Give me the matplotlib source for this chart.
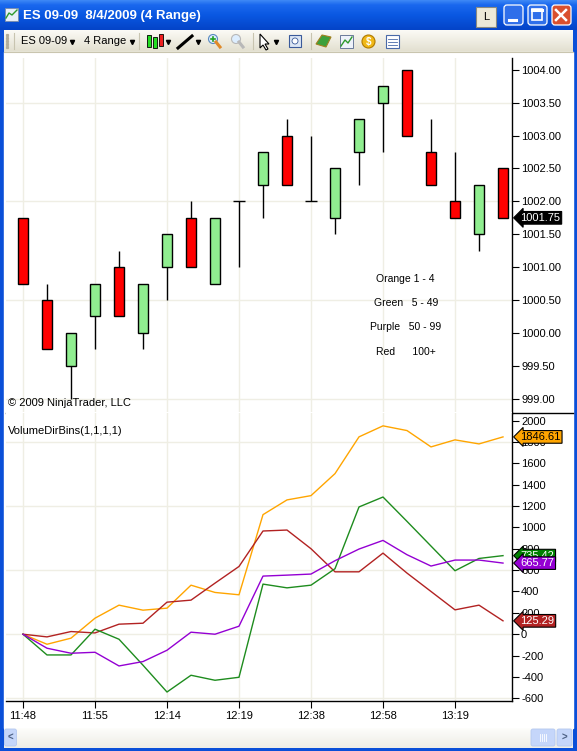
import numpy as np
import matplotlib
matplotlib.use("Agg")
import matplotlib.pyplot as plt
import matplotlib.ticker as ticker
from matplotlib.patches import Rectangle, FancyBboxPatch, Circle, Polygon

plt.rcParams['font.family'] = ['Liberation Sans', 'DejaVu Sans']

# ES 09-09, 4 range bars
bar_open  = [1001.75, 1000.50,  999.50, 1000.25, 1001.00, 1000.00, 1001.00, 1001.75, 1000.75, 1002.00, 1002.25,
             1003.00, 1002.00, 1001.75, 1002.75, 1003.50, 1004.00, 1002.75, 1002.00, 1001.50, 1002.50]
bar_high  = [1001.75, 1000.75, 1000.00, 1000.75, 1001.25, 1000.75, 1001.50, 1002.00, 1001.75, 1002.00, 1002.75,
             1003.25, 1003.00, 1002.50, 1003.25, 1003.75, 1004.00, 1003.25, 1002.75, 1002.25, 1002.50]
bar_low   = [1000.75,  999.75,  999.00,  999.75, 1000.25,  999.75, 1000.50, 1001.00, 1000.75, 1001.00, 1001.75,
             1002.25, 1002.00, 1001.50, 1002.25, 1002.75, 1003.00, 1002.25, 1001.75, 1001.25, 1001.75]
bar_close = [1000.75,  999.75, 1000.00, 1000.75, 1000.25, 1000.75, 1001.50, 1001.00, 1001.75, 1002.00, 1002.75,
             1002.25, 1002.00, 1002.50, 1003.25, 1003.75, 1003.00, 1002.25, 1001.75, 1002.25, 1001.75]

time_labels = ["11:48", "11:55", "12:14", "12:19", "12:38", "12:58", "13:19"]

# VolumeDirBins(1,1,1,1) cumulative lines
vol_orange = [0, -94, -37, 150, 272, 225, 244, 459, 391, 369, 1119, 1257, 1297, 1503, 1847, 1950, 1906, 1753, 1819, 1781, 1846.61]
vol_green  = [0, -194, -194, 47, -47, -290, -541, -384, -431, -403, 469, 434, 459, 613, 1191, 1284, 1056, 825, 594, 709, 735.42]
vol_purple = [0, -131, -178, -169, -297, -256, -150, 19, 0, 75, 544, 553, 563, 688, 797, 878, 744, 638, 694, 694, 665.77]
vol_red    = [0, -25, 25, 12, 94, 103, 300, 319, 478, 634, 966, 975, 800, 584, 584, 759, 572, 400, 228, 272, 125.29]

legend_lines = ["Orange 1 - 4", "Green   5 - 49", "Purple   50 - 99", "Red      100+"]

W, H = 577, 751
grid_c = "#EFEEE4"
fig = plt.figure(figsize=(W / 100, H / 100), dpi=100)


def rect(x0, y0, x1, y1):
    return [x0 / W, 1 - y1 / H, (x1 - x0) / W, (y1 - y0) / H]


def gradient(stops, n):
    pos = [s[0] for s in stops]
    cols = [matplotlib.colors.to_rgb(s[1]) for s in stops]
    t = np.linspace(0, 1, n)
    g = np.stack([np.interp(t, pos, [c[k] for c in cols]) for k in range(3)], axis=-1)
    return g[:, None, :]


# ---- window chrome ----
bg = fig.add_axes([0, 0, 1, 1])
bg.axis('off')
bg.add_patch(Rectangle((0, 0), W, H, color="#0A4FD8", zorder=0))
bg.imshow(gradient([(0, "#3B86F5"), (0.15, "#1A68EE"), (0.5, "#0A58E2"), (1, "#0444C8")], 30),
          extent=(0, W, 30, 0), aspect='auto', zorder=1)
bg.imshow(gradient([(0, "#FBFAF5"), (1, "#E2DFCF")], 22), extent=(4, 573, 52, 30), aspect='auto', zorder=1)
bg.plot([4, 573], [51.5, 51.5], color="#C9C5AF", lw=0.8, zorder=2)
bg.add_patch(Rectangle((4, 52), 569, 676, color="white", zorder=1))
bg.imshow(gradient([(0, "#FDFDFB"), (1, "#EEEDE6")], 20), extent=(4, 573, 748, 728), aspect='auto', zorder=1)

# title
bg.add_patch(Rectangle((5, 8), 13, 13, fc="#E8EEF8", ec="#7A8CA8", lw=0.6, zorder=2))
bg.plot([6, 9, 12, 17], [18, 13, 15, 10], color="#2E9A2E", lw=1.0, zorder=3)
bg.text(23, 16, "ES 09-09  8/4/2009 (4 Range)", color="white", fontsize=9.5, fontweight='bold', va='center')
bg.add_patch(Rectangle((476, 7), 20, 20, fc="#ECE9D8", ec="#8A8A80", lw=0.8, zorder=2))
bg.text(486, 17.5, "L", fontsize=8, ha='center', va='center')
for x0, fc in [(503, "#2F6FEA"), (527, "#2F6FEA"), (551, "#D9502E")]:
    bg.add_patch(FancyBboxPatch((x0 + 1, 5), 19, 20, boxstyle="round,pad=0,rounding_size=3",
                                fc=fc, ec="white", lw=0.9, zorder=2))
bg.plot([509, 516], [20, 20], color="white", lw=2.2, zorder=3)
bg.add_patch(Rectangle((532, 9), 10, 11, fc="none", ec="white", lw=1.2, zorder=3))
bg.plot([532, 542], [10, 10], color="white", lw=2.2, zorder=3)
bg.plot([556, 566], [10, 20], color="white", lw=1.8, zorder=3)
bg.plot([556, 566], [20, 10], color="white", lw=1.8, zorder=3)

# toolbar
for yy in [35, 38, 41, 44, 47]:
    bg.plot([7], [yy], marker='s', ms=1.3, color="#B0AC9A", zorder=3)
bg.plot([14, 14], [33, 49], color="#C8C4B0", lw=0.8, zorder=3)
bg.text(21, 41, "ES 09-09", fontsize=8, va='center')
bg.text(84, 41, "4 Range", fontsize=8, va='center')
for xx in [72, 132, 168, 198, 276]:
    bg.plot([xx], [41.5], marker='v', ms=3, color="black", zorder=3)
for xx in [139, 253, 311]:
    bg.plot([xx, xx], [33, 49], color="#C8C4B0", lw=0.8, zorder=3)
for xx, fc, y0, y1 in [(149, "#22DD22", 35, 47), (155, "#22DD22", 37, 48), (161, "#EE2020", 34, 46)]:
    bg.add_patch(Rectangle((xx - 1.8, y0), 3.6, y1 - y0, fc=fc, ec="black", lw=0.6, zorder=3))
bg.plot([178, 192], [48, 36], color="black", lw=2.2, zorder=3)
for xx, c in [(214, "#E08A2A"), (237, "#B8B8B8")]:
    bg.add_patch(Circle((xx - 1, 39), 4.5, fc="#DDEEFF", ec="#5A8AC0" if xx == 214 else c, lw=0.8, zorder=3))
    bg.plot([xx + 2, xx + 6], [42, 47], color=c, lw=2.2, zorder=3)
bg.plot([211, 215], [39, 39], color="#20A020", lw=1.2, zorder=4)
bg.plot([213, 213], [37, 41], color="#20A020", lw=1.2, zorder=4)
bg.add_patch(Polygon([(260, 34), (260, 48), (263, 45), (266, 50), (268, 49), (265, 44), (269, 44)],
                     fc="white", ec="black", lw=0.8, zorder=3))
bg.add_patch(Rectangle((289, 35), 12, 12, fc="#DCE6F4", ec="#3A5A9A", lw=0.8, zorder=3))
bg.add_patch(Circle((295, 41), 3, fc="white", ec="#3A5A9A", lw=0.6, zorder=4))
bg.add_patch(Polygon([(316, 44), (322, 35), (331, 37), (326, 47)], fc="#3CA03C", ec="#A08020", lw=0.8, zorder=3))
bg.add_patch(Rectangle((340, 35), 13, 13, fc="#EEF2FA", ec="#6A7A9A", lw=0.7, zorder=3))
bg.plot([341, 345, 348, 352], [46, 40, 43, 37], color="#2E9A2E", lw=1.0, zorder=4)
bg.add_patch(Circle((368.5, 41.5), 6.5, fc="#F0B818", ec="#B07A00", lw=0.8, zorder=3))
bg.text(368.5, 42, "$", fontsize=7, fontweight='bold', color="white", ha='center', va='center', zorder=5)
bg.add_patch(Rectangle((386, 35), 13, 13, fc="white", ec="#4A6AA8", lw=0.8, zorder=3))
for yy in [38.5, 41.5, 44.5]:
    bg.plot([388, 397], [yy, yy], color="#4A6AA8", lw=0.6, zorder=4)

# scrollbar
bg.add_patch(FancyBboxPatch((4.5, 729), 12, 17, boxstyle="round,pad=0,rounding_size=2",
                            fc="#C5D6FA", ec="#B4C8F0", lw=0.6, zorder=3))
bg.text(10.5, 737.5, "<", fontsize=7, fontweight='bold', color="#4D6185", ha='center', va='center', zorder=5)
bg.add_patch(FancyBboxPatch((531, 729), 24, 17, boxstyle="round,pad=0,rounding_size=2",
                            fc="#C5D6FA", ec="#B4C8F0", lw=0.6, zorder=3))
for xx in [540, 542, 544, 546]:
    bg.plot([xx, xx], [734, 741], color="white", lw=0.6, zorder=4)
bg.add_patch(FancyBboxPatch((557, 729), 15, 17, boxstyle="round,pad=0,rounding_size=2",
                            fc="#C5D6FA", ec="#B4C8F0", lw=0.6, zorder=3))
bg.text(564.5, 737.5, ">", fontsize=7, fontweight='bold', color="#4D6185", ha='center', va='center', zorder=5)
bg.plot([512, 573], [412.5, 412.5], color="black", lw=1.0, zorder=3)
bg.set_xlim(0, W)
bg.set_ylim(H, 0)

# ---- price panel ----
ax1 = fig.add_axes(rect(6, 58, 512, 412.5))
n = len(bar_open)
xs = np.arange(n)
for i in range(n):
    o, h, l, c = bar_open[i], bar_high[i], bar_low[i], bar_close[i]
    ax1.vlines(i, l, h, color="black", lw=1.0, zorder=3)
    if c == o:
        ax1.hlines(o, i - 0.25, i + 0.25, color="black", lw=1.0, zorder=4)
    else:
        ax1.add_patch(Rectangle((i - 0.215, min(o, c)), 0.43, abs(c - o),
                                fc="#90EE90" if c > o else "#FF0000", ec="black", lw=1.0, zorder=4))
ax1.set_xlim(-0.708, 20.375)
ax1.set_ylim(998.79, 1004.18)
ax1.yaxis.tick_right()
ax1.yaxis.set_major_locator(ticker.MultipleLocator(0.5))
ax1.yaxis.set_major_formatter(ticker.FormatStrFormatter('%.2f'))
ax1.yaxis.set_minor_locator(ticker.MultipleLocator(1.5))
ax1.yaxis.remove_overlapping_locs = False
ax1.xaxis.set_major_locator(ticker.FixedLocator(xs[::3]))
ax1.tick_params(axis='y', which='major', direction='out', length=5, width=0.8, pad=1.5, labelsize=8)
ax1.tick_params(axis='y', which='minor', length=0)
ax1.tick_params(axis='x', length=0, labelbottom=False)
ax1.grid(axis='x', which='major', color=grid_c, lw=1.0)
ax1.grid(axis='y', which='minor', color=grid_c, lw=1.0)
ax1.set_axisbelow(True)
for s in ['left', 'top']:
    ax1.spines[s].set_visible(False)
for s in ['right', 'bottom']:
    ax1.spines[s].set_linewidth(1.0)
ax1.text(0.004, 0.026, "\u00a9 2009 NinjaTrader, LLC", transform=ax1.transAxes, fontsize=8, va='center')
for k, t in enumerate(legend_lines):
    ax1.text(0.79, 0.376 - k * 0.068, t, transform=ax1.transAxes, fontsize=7.5, ha='center', va='center')
ax1.annotate(f"{bar_close[-1]:.2f}", xy=(1, bar_close[-1]), xycoords=('axes fraction', 'data'),
             xytext=(6, 0), textcoords='offset points', fontsize=8, color="white", va='center', ha='left',
             bbox=dict(boxstyle="larrow,pad=0.12", fc="black", ec="black", lw=0.8),
             annotation_clip=False, zorder=10)

# ---- indicator panel ----
ax2 = fig.add_axes(rect(6, 412.5, 512, 701))
series = [(vol_orange, "#FFA500", "black"), (vol_red, "#B22222", "white"),
          (vol_green, "#1E8C1E", "white"), (vol_purple, "#9400D3", "white")]
for vals, col, tcol in series:
    ax2.plot(xs, vals, color=col, lw=1.0, zorder=3)
for vals, col, tcol in series:
    fc = "#008000" if col == "#1E8C1E" else col
    ax2.annotate(f"{vals[-1]:.2f}", xy=(1, vals[-1]), xycoords=('axes fraction', 'data'),
                 xytext=(6, 0), textcoords='offset points', fontsize=8, color=tcol, va='center', ha='left',
                 bbox=dict(boxstyle="larrow,pad=0.12", fc=fc, ec="black", lw=0.8),
                 annotation_clip=False, zorder=10)
ax2.set_xlim(-0.708, 20.375)
ax2.set_ylim(-625, 2075)
ax2.yaxis.tick_right()
ax2.yaxis.set_major_locator(ticker.MultipleLocator(200))
ax2.yaxis.set_major_formatter(ticker.FormatStrFormatter('%d'))
ax2.yaxis.set_minor_locator(ticker.MultipleLocator(600))
ax2.yaxis.remove_overlapping_locs = False
ax2.xaxis.set_major_locator(ticker.FixedLocator(xs[::3]))
ax2.xaxis.set_major_formatter(ticker.FixedFormatter(time_labels))
ax2.tick_params(axis='y', which='major', direction='out', length=5, width=0.8, pad=1.5, labelsize=8)
ax2.tick_params(axis='y', which='minor', length=0)
ax2.tick_params(axis='x', direction='out', length=5, width=0.8, pad=2, labelsize=8)
ax2.grid(axis='x', which='major', color=grid_c, lw=1.0)
ax2.grid(axis='y', which='minor', color=grid_c, lw=1.0)
ax2.set_axisbelow(True)
for s in ['left', 'top']:
    ax2.spines[s].set_visible(False)
for s in ['right', 'bottom']:
    ax2.spines[s].set_linewidth(1.0)
ax2.text(0.004, 0.9375, "VolumeDirBins(1,1,1,1)", transform=ax2.transAxes, fontsize=8, va='center')

fig.savefig("out.png", dpi=100)
